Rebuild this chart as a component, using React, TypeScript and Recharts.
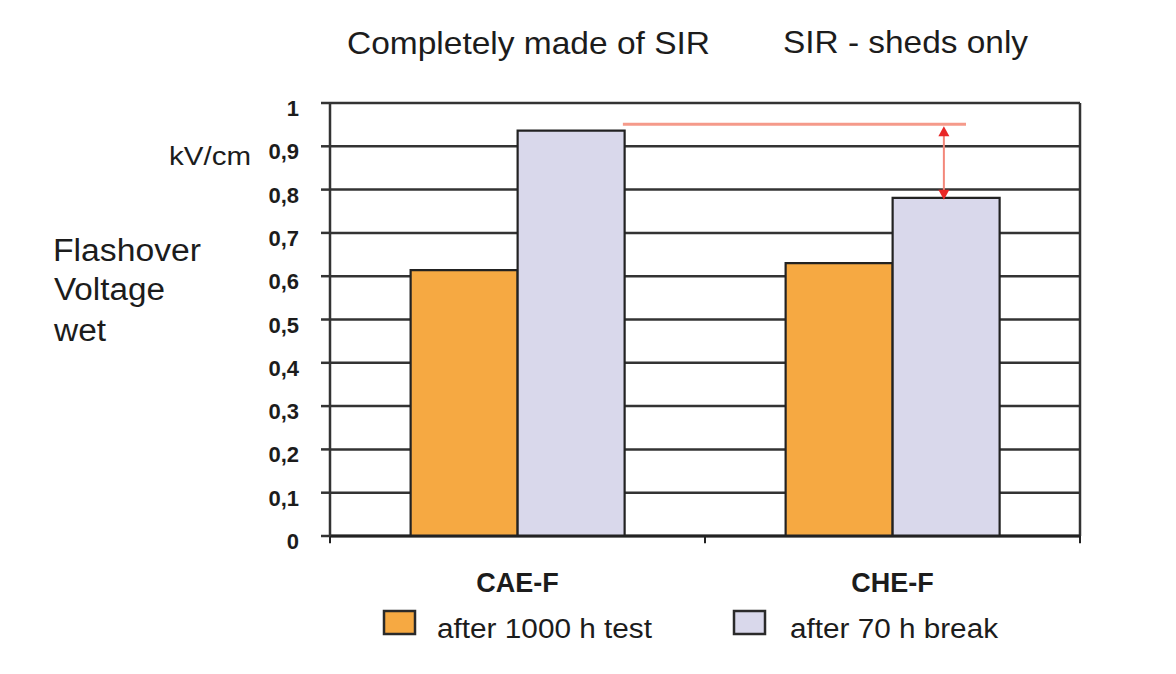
import React from 'react';
import { BarChart, Bar, XAxis, YAxis, CartesianGrid, ReferenceLine } from 'recharts';

// ---- data ----
const categories = ['CAE-F', 'CHE-F'];
const after1000h = [0.614, 0.63];
const after70h = [0.936, 0.781];
const seriesKeys = ['a1000', 'a70'];
const seriesNames = ['after 1000 h test', 'after 70 h break'];
const seriesColors = ['#F6A942', '#D9D8EB'];
const yTicks = [0, 0.1, 0.2, 0.3, 0.4, 0.5, 0.6, 0.7, 0.8, 0.9, 1];
const groupTitles = ['Completely made of SIR', 'SIR - sheds only'];
const yLabelLines = ['Flashover', 'Voltage', 'wet'];
const unitLabel = 'kV/cm';
// annotation (fraction of the category axis 0..1 on a hidden numeric axis, value units on y)
const refLevel = 0.951;
const refLineSpan = [0.3905, 0.848];
const arrowX = 0.8185;
const arrowRange = [0.781, 0.951];
const categoryBounds = [0, 0.5, 1];

const data = categories.map((c, i) => ({ name: c, a1000: after1000h[i], a70: after70h[i] }));

const FONT = '"Liberation Sans", Arial, Helvetica, sans-serif';
const INK = '#1c1c1c';
const GRID = '#333333';

const fmt = (v: number) => String(Math.round(v * 10) / 10).replace('.', ',');

const YTick = (props: any) => {
  const { x, y, payload } = props;
  return (
    <text x={x} y={y + 13} textAnchor="end" fontFamily={FONT} fontSize={22} fontWeight="bold" fill={INK}>
      {fmt(payload.value)}
    </text>
  );
};

const XTick = (props: any) => {
  const { x, y, payload } = props;
  return (
    <text x={x} y={y + 56} textAnchor="middle" fontFamily={FONT} fontSize={27} fontWeight="bold" fill={INK}>
      {payload.value}
    </text>
  );
};

const ArrowShape = (props: any) => {
  const { x1, y1, x2, y2 } = props;
  const top = Math.min(y1, y2);
  const bot = Math.max(y1, y2);
  const x = (x1 + x2) / 2;
  return (
    <g>
      <line x1={x} y1={top + 4} x2={x} y2={bot - 4} stroke="#F3877A" strokeWidth={2} />
      <polygon points={`${x},${top + 2} ${x - 5.5},${top + 12} ${x + 5.5},${top + 12}`} fill="#E82626" />
      <polygon points={`${x},${bot + 2} ${x - 5.5},${bot - 8} ${x + 5.5},${bot - 8}`} fill="#E82626" />
    </g>
  );
};

const Overlay = () => (
  <svg width={1176} height={674} style={{ position: 'absolute', left: 0, top: 0, pointerEvents: 'none' }}>
    <g fontFamily={FONT} fill={INK}>
      <text x={347} y={54} fontSize={32} textLength={363} lengthAdjust="spacingAndGlyphs">{groupTitles[0]}</text>
      <text x={783} y={53} fontSize={32} textLength={245} lengthAdjust="spacingAndGlyphs">{groupTitles[1]}</text>
      <text x={169} y={165} fontSize={26} textLength={82} lengthAdjust="spacingAndGlyphs">{unitLabel}</text>
      <text x={53} y={261} fontSize={31} textLength={148} lengthAdjust="spacingAndGlyphs">{yLabelLines[0]}</text>
      <text x={54} y={300} fontSize={31} textLength={111} lengthAdjust="spacingAndGlyphs">{yLabelLines[1]}</text>
      <text x={54} y={341} fontSize={31} textLength={52} lengthAdjust="spacingAndGlyphs">{yLabelLines[2]}</text>
    </g>
    {/* legend */}
    <g fontFamily={FONT} fill={INK}>
      <rect x={384} y={611} width={31} height={23} fill={seriesColors[0]} stroke="#2a2a2a" strokeWidth={2.5} />
      <text x={437} y={638} fontSize={27} textLength={215} lengthAdjust="spacingAndGlyphs">{seriesNames[0]}</text>
      <rect x={734} y={611} width={31} height={23} fill={seriesColors[1]} stroke="#2a2a2a" strokeWidth={2.5} />
      <text x={790} y={638} fontSize={27} textLength={208} lengthAdjust="spacingAndGlyphs">{seriesNames[1]}</text>
    </g>
  </svg>
);

export default function App() {
  return (
    <div style={{ position: 'absolute', left: 0, top: 0, width: 1176, height: 674, background: '#fff' }}>
      <BarChart
        width={1176}
        height={674}
        data={data}
        margin={{ top: 103, right: 96, bottom: 78, left: 0 }}
        barCategoryGap="21.5%"
        barGap={0}
      >
        <CartesianGrid xAxisId="cat" yAxisId="v" vertical={false} stroke={GRID} strokeWidth={2.5} />
        <XAxis
          xAxisId="cat"
          dataKey="name"
          height={60}
          tickLine={false}
          tickSize={0}
          tickMargin={0}
          axisLine={{ stroke: '#222', strokeWidth: 3 }}
          tick={<XTick />}
        />
        <XAxis xAxisId="num" type="number" domain={[0, 1]} allowDataOverflow hide />
        <YAxis
          yAxisId="v"
          width={330}
          domain={[0, 1]}
          ticks={yTicks}
          interval={0}
          tickSize={9}
          tickMargin={22}
          axisLine={{ stroke: GRID, strokeWidth: 2.5 }}
          tickLine={{ stroke: GRID, strokeWidth: 2.5 }}
          tick={<YTick />}
        />
        {seriesKeys.map((k, i) => (
          <Bar
            key={k}
            xAxisId="cat"
            yAxisId="v"
            dataKey={k}
            name={seriesNames[i]}
            fill={seriesColors[i]}
            stroke="#222"
            strokeWidth={2.2}
            isAnimationActive={false}
          />
        ))}
        <ReferenceLine
          xAxisId="num"
          yAxisId="v"
          ifOverflow="visible"
          segment={[{ x: 1, y: 0 }, { x: 1, y: 1 }]}
          stroke={GRID}
          strokeWidth={2.5}
        />
        {categoryBounds.map((b) => (
          <ReferenceLine
            key={b}
            xAxisId="num"
            yAxisId="v"
            ifOverflow="visible"
            segment={[{ x: b, y: 0 }, { x: b, y: -0.017 }]}
            stroke="#222"
            strokeWidth={2}
          />
        ))}
        <ReferenceLine
          xAxisId="num"
          yAxisId="v"
          ifOverflow="visible"
          segment={[{ x: refLineSpan[0], y: refLevel }, { x: refLineSpan[1], y: refLevel }]}
          stroke="#F59A8A"
          strokeWidth={3}
        />
        <ReferenceLine
          xAxisId="num"
          yAxisId="v"
          ifOverflow="visible"
          segment={[{ x: arrowX, y: arrowRange[0] }, { x: arrowX, y: arrowRange[1] }]}
          shape={ArrowShape}
        />
      </BarChart>
      <Overlay />
    </div>
  );
}
